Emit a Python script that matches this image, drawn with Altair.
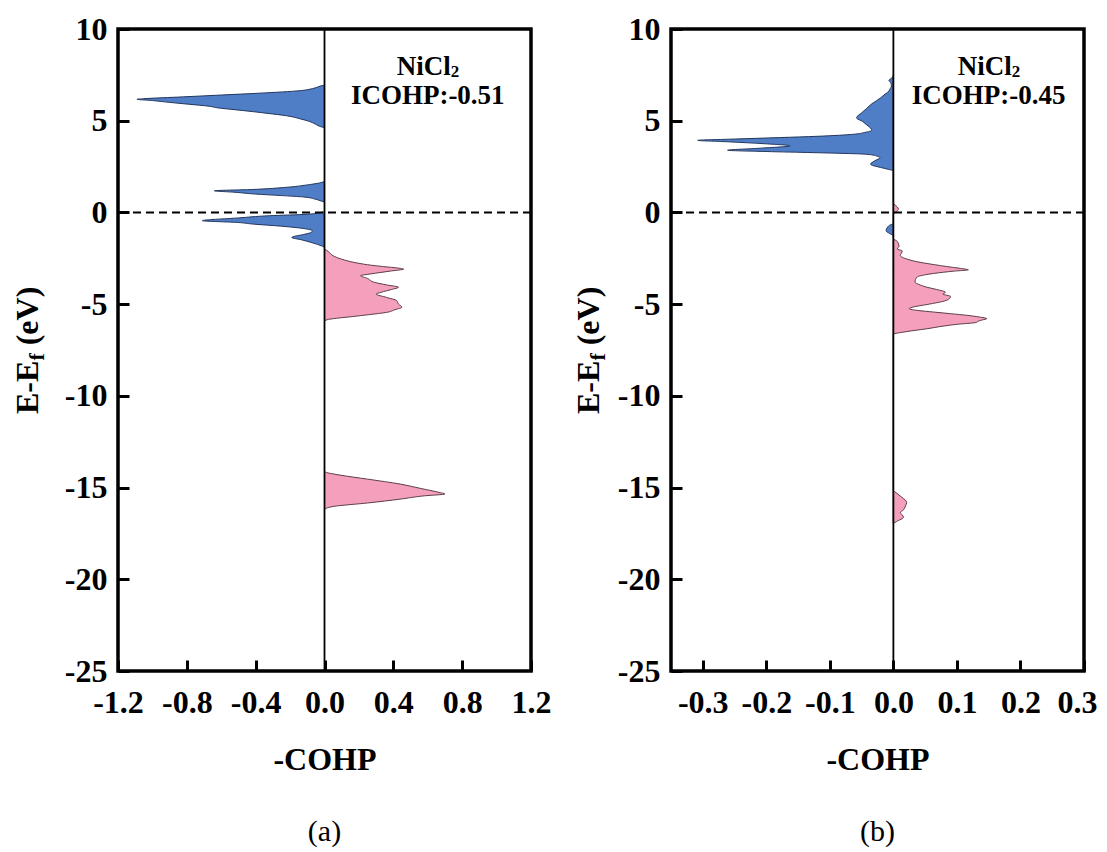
import altair as alt
import pandas as pd

# ---------------- data ----------------
# panel (a): energy (eV) and -COHP
E_a = [7.10, 6.95, 6.90, 6.75, 6.64, 6.50, 6.40, 6.30, 6.20, 6.17, 6.10, 6.00, 5.90, 5.79, 5.70,
       5.60, 5.50, 5.40, 5.27, 5.10, 5.00, 4.85, 4.70, 4.60,
       1.72, 1.64, 1.50, 1.37, 1.25, 1.18, 1.10, 1.00, 0.92, 0.84, 0.74, 0.64, 0.55,
       0.05, 0.00, -0.10, -0.18, -0.30, -0.45, -0.55, -0.63, -0.75, -0.88, -1.00, -1.10, -1.20,
       -1.36, -1.50, -1.63, -1.78, -1.92,
       -2.00, -2.05, -2.20, -2.36, -2.55, -2.72, -2.85, -2.94, -3.05, -3.09, -3.20, -3.35, -3.45,
       -3.60, -3.81, -3.95, -4.08, -4.20, -4.35, -4.45, -4.63, -4.81, -5.00, -5.17, -5.30, -5.45,
       -5.57, -5.67, -5.77, -5.85, -5.95,
       -14.10, -14.17, -14.32, -14.54, -14.81, -15.05, -15.25, -15.35, -15.45, -15.63, -15.84,
       -16.03, -16.13, -16.20]
C_a = [0, 0, -0.02, -0.07, -0.14, -0.38, -0.60, -0.82, -1.05, -1.09, -1.00, -0.90, -0.79, -0.67, -0.62,
       -0.52, -0.42, -0.33, -0.22, -0.14, -0.10, -0.06, -0.03, 0,
       0, -0.015, -0.10, -0.22, -0.42, -0.64, -0.52, -0.40, -0.25, -0.12, -0.06, -0.025, 0,
       0, -0.02, -0.10, -0.32, -0.50, -0.71, -0.50, -0.42, -0.25, -0.12, -0.07, -0.08, -0.12,
       -0.19, -0.13, -0.08, -0.03, 0,
       0, 0.01, 0.03, 0.05, 0.10, 0.17, 0.25, 0.33, 0.44, 0.46, 0.38, 0.27, 0.21,
       0.25, 0.29, 0.36, 0.43, 0.39, 0.33, 0.30, 0.36, 0.42, 0.43, 0.45, 0.41, 0.36,
       0.26, 0.17, 0.07, 0.015, 0,
       0, 0.01, 0.09, 0.25, 0.44, 0.56, 0.66, 0.70, 0.58, 0.44, 0.25,
       0.05, 0.01, 0]

# panel (b)
E_b = [7.50, 7.43, 7.30, 7.20, 7.05, 6.89, 6.75, 6.61, 6.45, 6.25, 6.08, 5.92, 5.67, 5.43, 5.16,
       4.95, 4.77, 4.60, 4.48, 4.36, 4.26, 4.15, 4.08, 4.00, 3.93, 3.85, 3.75, 3.63, 3.50, 3.39,
       3.32, 3.26, 3.17, 3.05, 2.99, 2.80, 2.63, 2.45, 2.35, 2.27,
       0.50, 0.46, 0.30, 0.18, 0.05, -0.09,
       -0.60, -0.70, -0.85, -1.00, -1.15, -1.27,
       -1.45, -1.54, -1.72, -1.85, -1.99, -2.10, -2.35, -2.55, -2.72, -2.85, -2.95, -3.05, -3.13,
       -3.20, -3.26, -3.40, -3.53, -3.80, -3.95, -4.08, -4.20, -4.35, -4.45, -4.58, -4.70, -4.80,
       -5.02, -5.15, -5.25, -5.35, -5.43, -5.52, -5.61, -5.70, -5.79, -5.86, -5.92, -6.00, -6.10,
       -6.20, -6.34, -6.50, -6.65,
       -15.15, -15.22, -15.52, -15.81, -16.00, -16.21, -16.36, -16.50, -16.61, -16.85, -16.95]
C_b = [0, 0, -0.004, -0.007, -0.004, -0.003, -0.005, -0.007, -0.013, -0.020, -0.027, -0.034, -0.042,
       -0.050, -0.058, -0.048, -0.042, -0.036, -0.034, -0.045, -0.063, -0.12, -0.179, -0.25, -0.308,
       -0.26, -0.205, -0.163, -0.21, -0.261, -0.20, -0.126, -0.042, -0.024, -0.021, -0.030, -0.036,
       -0.020, -0.008, 0,
       0, 0.001, 0.006, 0.008, 0.005, 0,
       0, -0.006, -0.010, -0.0115, -0.006, 0,
       0, 0.005, 0.008, 0.009, 0.006, 0.014, 0.011, 0.022, 0.042, 0.065, 0.084, 0.105, 0.118,
       0.095, 0.079, 0.050, 0.037, 0.034, 0.042, 0.053, 0.068, 0.082, 0.078, 0.090, 0.088, 0.083,
       0.053, 0.032, 0.025, 0.040, 0.063, 0.090, 0.116, 0.135, 0.147, 0.140, 0.134, 0.130, 0.100,
       0.078, 0.053, 0.020, 0,
       0, 0.002, 0.013, 0.021, 0.019, 0.016, 0.011, 0.014, 0.016, 0.005, 0]

Y_TICKS = [-25, -20, -15, -10, -5, 0, 5, 10]
X_TICKS_A = [-1.2, -0.8, -0.4, 0.0, 0.4, 0.8, 1.2]
X_TICKS_B = [-0.3, -0.2, -0.1, 0.0, 0.1, 0.2, 0.3]
X_DOM_A = [-1.2, 1.2]
X_DOM_B = [-0.35, 0.3]
Y_DOM = [-25, 10]
COMPOUND = "NiCl"
COMPOUND_SUB = "2"
ICOHP = ["ICOHP:-0.51", "ICOHP:-0.45"]
LETTERS = ["(a)", "(b)"]
NOTE_X = [0.6, 0.15]
X_TITLE = "-COHP"
Y_TITLE = ["E-E", "f", "(eV)"]

# ---------------- style ----------------
FONT = "Liberation Serif"
BLUE = "#4F7EC6"
BLUE_EDGE = "#22365e"
PINK = "#F4A0BD"
PINK_EDGE = "#5c3f49"
W, H = 413, 642
FS = 32
MINUS = "\u2212"


def panel(E, C, xdom, xticks, note_x, icohp, letter, ytitle_x, flush, flush_off):
    df = pd.DataFrame({"E": E, "c": C})
    df["neg"] = df["c"].clip(upper=0)
    df["pos"] = df["c"].clip(lower=0)

    xs = alt.Scale(domain=xdom, nice=False, zero=False)
    ys = alt.Scale(domain=Y_DOM, nice=False, zero=False)
    xaxis = alt.Axis(
        values=xticks, title=X_TITLE,
        labelExpr="replace(format(datum.value, '.1f'), '%s', '-')" % MINUS,
        offset=-11, tickSize=11, tickWidth=3, tickColor="black", domain=False, grid=False,
        labelFont=FONT, labelFontSize=FS, labelFontWeight="bold", labelColor="black",
        labelPadding=16, labelFlush=flush, labelFlushOffset=flush_off, labelOverlap=False,
        titleFont=FONT, titleFontSize=FS, titleFontWeight="bold", titleColor="black",
        titleBaseline="alphabetic", titleY=109,
    )
    yaxis = alt.Axis(
        values=Y_TICKS, title=None,
        labelExpr="replace(format(datum.value, 'd'), '%s', '-')" % MINUS,
        offset=-11, tickSize=11, tickWidth=3, tickColor="black", domain=False, grid=False,
        labelFont=FONT, labelFontSize=FS, labelFontWeight="bold", labelColor="black",
        labelPadding=11, labelOverlap=False, labelFlush=False,
    )

    def X(f):
        return alt.X(f, type="quantitative", scale=xs, axis=xaxis, stack=None)

    def Y(f):
        return alt.Y(f, type="quantitative", scale=ys, axis=yaxis)

    base = alt.Chart(df)
    neg = base.mark_area(orient="horizontal", interpolate="monotone", fill=BLUE,
                         stroke=BLUE_EDGE, strokeWidth=1).encode(y=Y("E"), x=X("neg"))
    pos = base.mark_area(orient="horizontal", interpolate="monotone", fill=PINK,
                         stroke=PINK_EDGE, strokeWidth=1).encode(y=Y("E"), x=X("pos"))

    zero = pd.DataFrame({"z": [0.0]})
    vline = alt.Chart(zero).mark_rule(color="black", strokeWidth=1.8).encode(x=X("z"))
    hline = alt.Chart(zero).mark_rule(color="black", strokeWidth=2, strokeDash=[8, 5]).encode(y=Y("z"))

    note = pd.DataFrame({"x": [note_x]})
    tstyle = dict(font=FONT, fontWeight="bold", color="black", baseline="alphabetic")
    t_comp = alt.Chart(note).mark_text(fontSize=27, align="center", dx=-4, **tstyle).encode(
        x=X("x"), y=alt.value(46), text=alt.value(COMPOUND))
    t_sub = alt.Chart(note).mark_text(fontSize=17, align="left", dx=23, **tstyle).encode(
        x=X("x"), y=alt.value(48), text=alt.value(COMPOUND_SUB))
    t_ic = alt.Chart(note).mark_text(fontSize=27, align="center", **tstyle).encode(
        x=X("x"), y=alt.value(75), text=alt.value(icohp))

    one = pd.DataFrame({"k": [0]})

    def ytext(txt, px, py, fs):
        return alt.Chart(one).mark_text(fontSize=fs, angle=270, align="left", **tstyle).encode(
            x=alt.value(px), y=alt.value(py), text=alt.value(txt))

    y0 = 385
    yt1 = ytext(Y_TITLE[0], ytitle_x, y0, FS)
    yt2 = ytext(Y_TITLE[1], ytitle_x + 6, y0 - 53.4, 22)
    yt3 = ytext(Y_TITLE[2], ytitle_x, y0 - 53.4 - 7.3 - 8, FS)

    return alt.layer(neg, pos, vline, hline, t_comp, t_sub, t_ic, yt1, yt2, yt3).properties(
        width=W, height=H,
        title=alt.TitleParams(text=letter, orient="bottom", anchor="middle", frame="group",
                              offset=42, font=FONT, fontSize=30, fontWeight="normal",
                              color="black"),
    )


pa = panel(E_a, C_a, X_DOM_A, X_TICKS_A, NOTE_X[0], ICOHP[0], LETTERS[0], -80, False, 0)
pb = panel(E_b, C_b, X_DOM_B, X_TICKS_B, NOTE_X[1], ICOHP[1], LETTERS[1], -72, 1, 13)

chart = (
    alt.hconcat(pa, pb, spacing=140, bounds="flush")
    .properties(padding={"left": 2, "top": 3, "right": 0, "bottom": 0}, background="white")
    .configure_view(stroke="black", strokeWidth=3.5)
)

chart.save("out.html", embed_options={"renderer": "svg", "actions": False})
